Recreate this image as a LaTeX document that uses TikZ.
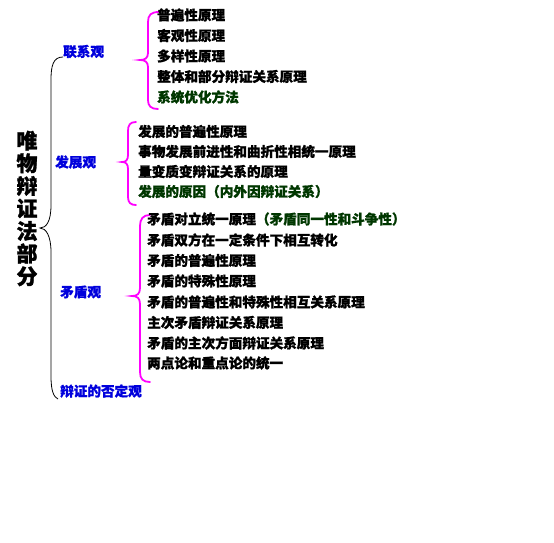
\documentclass[tikz,border=0pt]{standalone}
\usepackage{fontspec}
\setmainfont{Noto Sans CJK SC}[BoldFeatures={FakeBold=1.2}]
\definecolor{lblue}{RGB}{0,0,220}
\definecolor{dgreen}{RGB}{0,55,0}
\definecolor{mag}{RGB}{255,0,255}
\begin{document}
\begin{tikzpicture}[x=1pt,y=-1pt,
  item/.style={anchor=west,inner sep=0pt,font=\fontsize{13.6}{14}\selectfont\bfseries},
  lab/.style={item,text=lblue},
  gitem/.style={item,text=dgreen},
  mbrace/.style={draw=mag,line width=1.8pt,line cap=round},
  kbrace/.style={draw=black,line width=0.8pt}]
\useasboundingbox (0,0) rectangle (554,543);
% title
\node[inner sep=0pt,align=center,font=\fontsize{21}{22.6}\selectfont\bfseries] (title) at (27,208.5) {唯\\物\\辩\\证\\法\\部\\分};
% big brace
\coordinate (bt) at (63,57);
\coordinate (bb) at (58,399);
\coordinate (btip) at (40,228);
\draw[kbrace] (bt) .. controls (53,57) and (51,66) .. (51,80) -- (51,205)
  .. controls (51,222) and (46,228) .. (btip)
  .. controls (46,228) and (51,236) .. (51,252) -- (51,376)
  .. controls (51,392) and (54,397) .. (bb);
% labels
\node[lab] (lx) at (63,51.5) {联系观};
\node[lab] (fz) at (55,162) {发展观};
\node[lab] (md) at (60,292) {矛盾观};
\node[lab] (fd) at (60,391) {辩证的否定观};
% brace 1
\draw[mbrace] (159,12) .. controls (151,12) and (148,15) .. (148,22) -- (148,53)
  .. controls (148,58) and (145,60) .. (140,60)
  .. controls (145,60) and (148,62) .. (148,67) -- (148,100)
  .. controls (148,106) and (151,109) .. (158,109);
\node[item] (a1) at (157,15) {普遍性原理};
\node[item] (a2) at (157,35.5) {客观性原理};
\node[item] (a3) at (157,56) {多样性原理};
\node[item] (a4) at (157,76.5) {整体和部分辩证关系原理};
\node[gitem] (a5) at (157,97) {系统优化方法};
% brace 2
\draw[mbrace] (136,122) .. controls (130,122) and (128,125) .. (128,131) -- (128,155)
  .. controls (128,160) and (126,162) .. (122,162)
  .. controls (126,162) and (128,164) .. (128,169) -- (128,197)
  .. controls (128,203) and (131,205) .. (136,205);
\node[item] (b1) at (138,131.5) {发展的普遍性原理};
\node[item] (b2) at (138,151.5) {事物发展前进性和曲折性相统一原理};
\node[item] (b3) at (138,171.5) {量变质变辩证关系的原理};
\node[gitem] (b4) at (138,191.5) {发展的原因（内外因辩证关系）};
% brace 3
\draw[mbrace] (150,215) .. controls (143,215) and (140,219) .. (140,226) -- (140,288)
  .. controls (140,294) and (137,296) .. (132,296)
  .. controls (137,296) and (140,298) .. (140,304) -- (140,372)
  .. controls (140,379) and (143,382) .. (150,382);
\node[item] (c1) at (147,219) {矛盾对立统一原理\textcolor{dgreen}{（矛盾同一性和斗争性）}};
\node[item] (c2) at (147,240) {矛盾双方在一定条件下相互转化};
\node[item] (c3) at (147,260.5) {矛盾的普遍性原理};
\node[item] (c4) at (147,281) {矛盾的特殊性原理};
\node[item] (c5) at (147,302) {矛盾的普遍性和特殊性相互关系原理};
\node[item] (c6) at (147,322.5) {主次矛盾辩证关系原理};
\node[item] (c7) at (147,343) {矛盾的主次方面辩证关系原理};
\node[item] (c8) at (147,363) {两点论和重点论的统一};
\end{tikzpicture}
\end{document}
